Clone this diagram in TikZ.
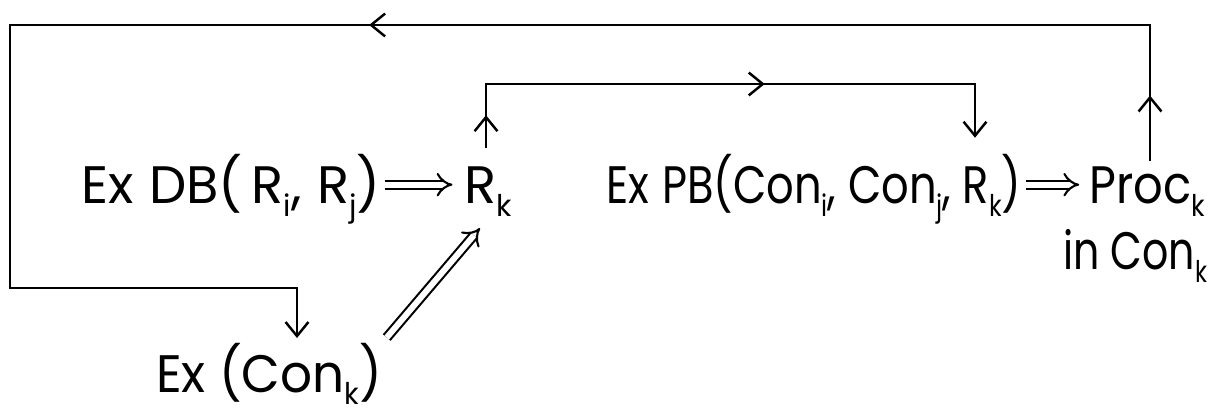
\documentclass[tikz,border=0pt]{standalone}
\usepackage{fontspec}
\setmainfont{Poppins}
\usetikzlibrary{arrows.meta,decorations.markings,calc}
\newcommand\sbx[1]{\raisebox{-0.45ex}{\fontsize{17pt}{17pt}\selectfont #1}}
\begin{document}
\begin{tikzpicture}[x=0.02cm,y=-0.02cm, line width=1.4pt,
  lbl/.style={inner sep=0pt, anchor=base west, font=\fontsize{30pt}{33pt}\selectfont},
  barb/.style={-{Straight Barb[length=8pt,width=13pt]}},
  dbl/.style={double, double distance=3.4pt, line width=1.2pt, -{Implies[length=7pt]}},
  midmark/.style={postaction={decorate}, decoration={markings, mark=at position #1 with {\arrow{Straight Barb[length=8pt,width=13pt]}}}}
]
\useasboundingbox (0,0) rectangle (1213,408);
% texts
\node[lbl] (db) at (80,204) {Ex\hspace{0.3em}DB(\,R\sbx{i},\hspace{0.3em}R\sbx{j})};
\node[lbl] (rk) at (463,204) {R\sbx{k}};
\node[lbl] (pb) at (605,204) {\scalebox{0.82}[1]{Ex\hspace{0.3em}PB(Con\sbx{i}, Con\sbx{j}, R\sbx{k})}};
\node[lbl] (proc) at (1088,204) {\scalebox{0.88}[1]{Proc\sbx{k}}};
\node[lbl] (inc) at (1062,270) {\scalebox{0.78}[1]{in Con\sbx{k}}};
\node[lbl] (exc) at (155,392) {\scalebox{0.95}[1]{Ex (Con\sbx{k})}};
% corners
\coordinate (tr) at (1150,25);
\coordinate (tl) at (10,25);
\coordinate (bl) at (10,288);
\coordinate (bm) at (297,288);
\coordinate (ul) at (486,84);
\coordinate (ur) at (975,84);
% feedback loop
\draw[barb, shorten <=3pt, shorten >=2pt] (proc.north -| tr) -- (tr) -- (tl) -- (bl) -- (bm) -- (exc.north -| bm);
\path[midmark=0.5] (proc.north -| tr) -- (tr);
\path[midmark=0.685] (tr) -- (tl);
% R_k to PB
\draw[barb, shorten <=10pt, shorten >=9pt] (rk.north -| ul) -- (ul) -- (ur) -- (pb.north -| ur);
\path[midmark=0.62] (rk.north -| ul) -- (ul);
\path[midmark=0.57] (ul) -- (ur);
% implications
\draw[dbl, shorten <=2pt, shorten >=6pt] ([yshift=11pt]db.base east) -- ([yshift=11pt]rk.base west);
\draw[dbl, shorten <=2pt, shorten >=5pt] ([yshift=11pt]pb.base east) -- ([yshift=11pt]proc.base west);
\draw[dbl, shorten <=3pt] (exc.north east) -- ($(rk.south)+(-8,10)$);
\end{tikzpicture}
\end{document}
